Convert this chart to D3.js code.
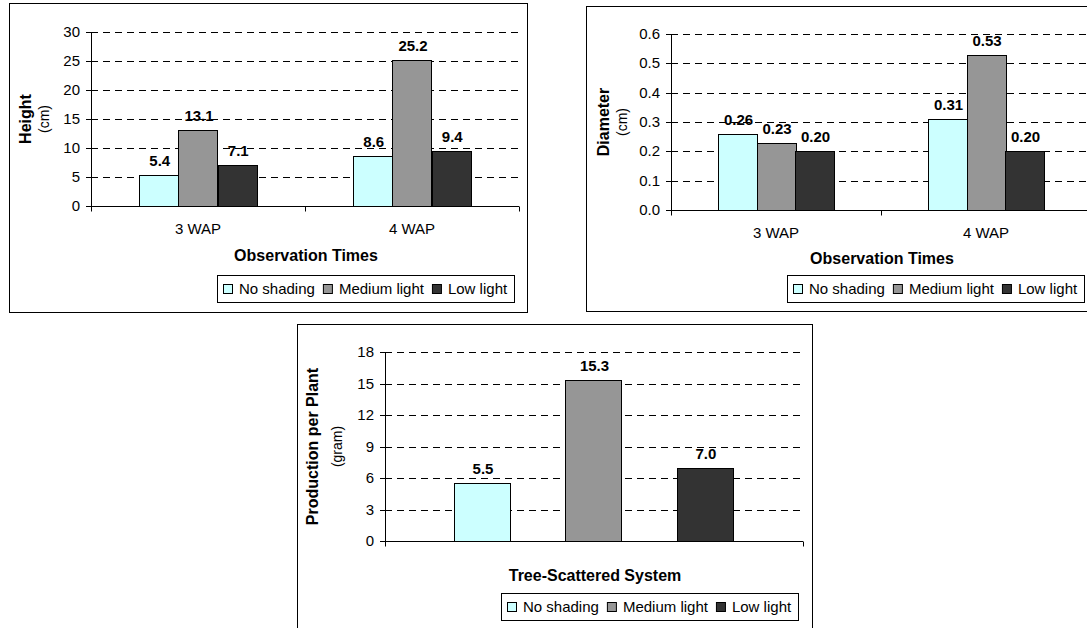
<!DOCTYPE html>
<html><head><meta charset="utf-8">
<script src="https://cdn.jsdelivr.net/npm/d3@7"></script>
<style>body{margin:0;background:#fff} svg{display:block}</style>
</head><body><svg id="c" width="1087" height="628"></svg>
<script>
const seriesNames = ["No shading", "Medium light", "Low light"];
const seriesColors = ["#CCFFFF", "#969696", "#333333"];

const heightCategories = ["3 WAP", "4 WAP"];
const heightNoShading = [5.4, 8.6];
const heightMediumLight = [13.1, 25.2];
const heightLowLight = [7.1, 9.4];
const heightTicks = [0, 5, 10, 15, 20, 25, 30];

const diameterCategories = ["3 WAP", "4 WAP"];
const diameterNoShading = [0.26, 0.31];
const diameterMediumLight = [0.23, 0.53];
const diameterLowLight = [0.20, 0.20];
const diameterTicks = [0, 0.1, 0.2, 0.3, 0.4, 0.5, 0.6];

const productionCategories = ["Tree-Scattered System"];
const productionNoShading = [5.5];
const productionMediumLight = [15.3];
const productionLowLight = [7.0];
const productionTicks = [0, 3, 6, 9, 12, 15, 18];

const FONT = "'Liberation Sans', Arial, Helvetica, sans-serif";
const svg = d3.select("#c");

function drawPanel(o) {
  const g = svg.append("g");
  const f = o.frame;
  g.append("rect").attr("x", f[0] + 0.5).attr("y", f[1] + 0.5)
    .attr("width", f[2] - f[0]).attr("height", f[3] - f[1])
    .attr("fill", "#fff").attr("stroke", "#000");

  const P = o.plot;
  const x0 = d3.scaleBand().domain(o.categories).range([P.left, P.right]);
  const bw = x0.bandwidth();
  const x1 = d3.scaleBand().domain(seriesNames)
    .range([bw * o.groupRange[0], bw * o.groupRange[1]]).paddingInner(o.barPadding);
  const y = d3.scaleLinear().domain([o.ticks[0], o.ticks[o.ticks.length - 1]])
    .rangeRound([P.bottom, P.top]);

  // gridlines
  g.append("g").selectAll("line").data(o.ticks.filter(t => t > o.ticks[0])).join("line")
    .attr("x1", P.left).attr("x2", P.right)
    .attr("y1", d => y(d) + 0.5).attr("y2", d => y(d) + 0.5)
    .attr("stroke", "#000").attr("stroke-width", 1).attr("stroke-dasharray", "7,5");

  // bars
  const rows = [];
  o.categories.forEach((c, ci) => {
    seriesNames.forEach((s, si) => rows.push({ c, s, si, v: o.values[si][ci] }));
  });
  const bars = g.append("g");
  bars.selectAll("rect").data(rows).join("rect")
    .attr("x", d => Math.round(x0(d.c) + x1(d.s)) + 0.5)
    .attr("y", d => y(d.v) + 0.5)
    .attr("width", Math.round(x1.bandwidth()))
    .attr("height", d => y(0) - y(d.v))
    .attr("fill", d => seriesColors[d.si])
    .attr("stroke", "#000").attr("stroke-width", 1);

  // value labels
  g.append("g").selectAll("text").data(rows).join("text")
    .attr("x", d => x0(d.c) + x1(d.s) + x1.bandwidth() / 2 + 1)
    .attr("y", d => y(d.v) - 9)
    .attr("text-anchor", "middle")
    .attr("font-family", FONT).attr("font-size", 15).attr("font-weight", "bold")
    .attr("fill", "#000")
    .text(d => o.labelFormat(d.v));

  // y axis
  const ya = d3.axisLeft(y).tickValues(o.ticks).tickSize(5).tickSizeOuter(0)
    .tickPadding(6).tickFormat(o.tickFormat);
  const yg = g.append("g").attr("transform", `translate(${P.left},0)`).call(ya);
  yg.selectAll("text").attr("font-family", FONT).attr("font-size", 15).attr("fill", "#000");
  yg.selectAll("line,path").attr("stroke", "#000");

  // x axis line & boundary ticks
  const yb = y(0) + 0.5;
  g.append("line").attr("x1", P.left).attr("x2", P.right).attr("y1", yb).attr("y2", yb)
    .attr("stroke", "#000");
  const bounds = o.categories.map(c => x0(c)).concat([P.right]);
  g.append("g").selectAll("line").data(bounds).join("line")
    .attr("x1", d => Math.round(d) + 0.5).attr("x2", d => Math.round(d) + 0.5)
    .attr("y1", yb).attr("y2", yb + 5).attr("stroke", "#000");

  if (o.showCategoryLabels) {
    g.append("g").selectAll("text").data(o.categories).join("text")
      .attr("x", d => x0(d) + bw / 2).attr("y", P.bottom + 27.5)
      .attr("text-anchor", "middle").attr("font-family", FONT).attr("font-size", 15)
      .text(d => d);
  }
  // x title
  g.append("text").attr("x", (P.left + P.right) / 2 + 1).attr("y", o.xTitleY)
    .attr("text-anchor", "middle").attr("font-family", FONT).attr("font-size", 16)
    .attr("font-weight", "bold").text(o.xTitle);

  // y title (two lines)
  const cy = (P.top + P.bottom) / 2;
  g.append("text").attr("transform", `translate(${o.yTitleX[0]},${cy}) rotate(-90)`)
    .attr("text-anchor", "middle").attr("font-family", FONT).attr("font-size", 16)
    .attr("font-weight", "bold").text(o.yTitle[0]);
  g.append("text").attr("transform", `translate(${o.yTitleX[1]},${cy}) rotate(-90)`)
    .attr("text-anchor", "middle").attr("font-family", FONT).attr("font-size", 14)
    .text(o.yTitle[1]);

  // legend
  const L = o.legend;
  const box = g.append("rect");
  const lg = g.append("g");
  let cx = 0;
  seriesNames.forEach((s, i) => {
    lg.append("rect").attr("x", cx + 0.5).attr("y", -5 + 0.5).attr("width", 9).attr("height", 9)
      .attr("fill", seriesColors[i]).attr("stroke", "#000");
    const t = lg.append("text").attr("x", cx + 16).attr("y", 0).attr("dy", "0.35em")
      .attr("font-family", FONT).attr("font-size", 15).text(s);
    cx += 16 + t.node().getComputedTextLength() + 8;
  });
  const w = cx - 8 + 6 + 7;
  const left = Math.round(L.right - w);
  box.attr("x", left + 0.5).attr("y", L.top + 0.5).attr("width", Math.round(w)).attr("height", L.height)
    .attr("fill", "#fff").attr("stroke", "#000");
  lg.attr("transform", `translate(${left + 6},${L.top + L.height / 2 + 0.5})`);
}

drawPanel({
  frame: [9, 3, 527, 312],
  plot: { left: 91, right: 519, top: 32, bottom: 206 },
  categories: heightCategories,
  values: [heightNoShading, heightMediumLight, heightLowLight],
  ticks: heightTicks,
  tickFormat: d3.format("d"),
  labelFormat: d3.format(".1f"),
  groupRange: [0.225, 0.775], barPadding: 0,
  showCategoryLabels: true,
  xTitle: "Observation Times", xTitleY: 260.5,
  yTitle: ["Height", "(cm)"], yTitleX: [31, 48.5],
  legend: { right: 514, top: 275, height: 27 }
});

drawPanel({
  frame: [586, 6, 1098, 311],
  plot: { left: 671, right: 1091, top: 34, bottom: 210 },
  categories: diameterCategories,
  values: [diameterNoShading, diameterMediumLight, diameterLowLight],
  ticks: diameterTicks,
  tickFormat: d3.format(".1f"),
  labelFormat: d3.format(".2f"),
  groupRange: [0.225, 0.775], barPadding: 0,
  showCategoryLabels: true,
  xTitle: "Observation Times", xTitleY: 264,
  yTitle: ["Diameter", "(cm)"], yTitleX: [608.5, 626.5],
  legend: { right: 1084, top: 275, height: 27 }
});

drawPanel({
  frame: [297, 324, 812, 640],
  plot: { left: 385, right: 803, top: 352, bottom: 541 },
  categories: productionCategories,
  values: [productionNoShading, productionMediumLight, productionLowLight],
  ticks: productionTicks,
  tickFormat: d3.format("d"),
  labelFormat: d3.format(".1f"),
  groupRange: [0.165, 0.8325], barPadding: 0.497,
  showCategoryLabels: false,
  xTitle: "Tree-Scattered System", xTitleY: 580.5,
  yTitle: ["Production per Plant", "(gram)"], yTitleX: [317.5, 342],
  legend: { right: 798, top: 593, height: 27 }
});
</script>
</body></html>
